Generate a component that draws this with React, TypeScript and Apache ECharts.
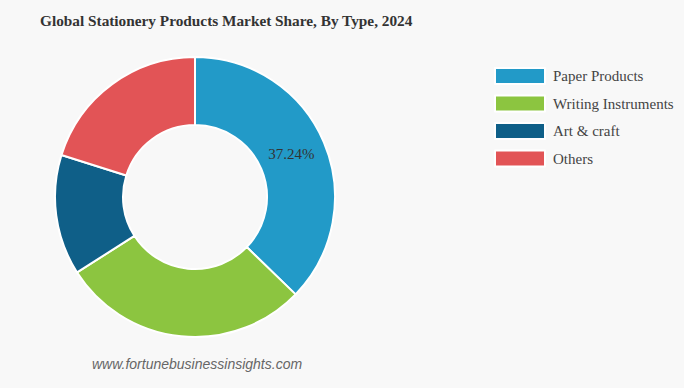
import React, { useEffect, useRef } from "react";
import * as echarts from "echarts";

const categories = ["Paper Products", "Writing Instruments", "Art & craft", "Others"];
const shares = [37.24, 28.7, 13.9, 20.16];
const colors = ["#229ac8", "#8cc540", "#0f5f88", "#e25456"];
const labelledIndex = 0;

export default function App() {
  const ref = useRef<HTMLDivElement>(null);
  useEffect(() => {
    const chart = echarts.init(ref.current!, null, { renderer: "svg" });
    chart.setOption({
      animation: false,
      backgroundColor: "#f8f8f8",
      title: {
        text: "Global Stationery Products Market Share, By Type, 2024",
        left: 40,
        top: 13,
        padding: 0,
        textStyle: { fontFamily: "Liberation Serif", fontWeight: "bold", fontSize: 15.3, color: "#333" },
      },
      legend: {
        orient: "vertical",
        left: 494,
        top: 67,
        padding: 0,
        itemWidth: 50,
        itemHeight: 16,
        itemGap: 9.5,
        icon: "rect",
        textStyle: { fontFamily: "Liberation Serif", fontSize: 15, color: "#444", padding: [0, 0, 0, 3] },
        data: categories,
      },
      graphic: [
        {
          type: "text",
          left: 92,
          top: 357,
          style: {
            text: "www.fortunebusinessinsights.com",
            font: "italic 14px 'Liberation Sans'",
            fill: "#666",
          },
        },
      ],
      series: [
        {
          type: "pie",
          center: [195, 197],
          radius: [72, 140],
          startAngle: 90,
          clockwise: true,
          color: colors,
          itemStyle: { borderColor: "#fff", borderWidth: 2 },
          label: { show: false },
          labelLine: { show: false },
          data: categories.map((name, i) => ({
            name,
            value: shares[i],
            label:
              i === labelledIndex
                ? {
                    show: true,
                    position: "inside",
                    formatter: (p: any) => p.value.toFixed(2) + "%",
                    fontFamily: "Liberation Serif",
                    fontSize: 15,
                    color: "#333",
                    padding: [0, 8, 0, 0],
                  }
                : { show: false },
          })),
        },
      ],
    });
    return () => chart.dispose();
  }, []);
  return <div ref={ref} style={{ position: "fixed", left: 0, top: 0, width: 684, height: 388 }} />;
}
